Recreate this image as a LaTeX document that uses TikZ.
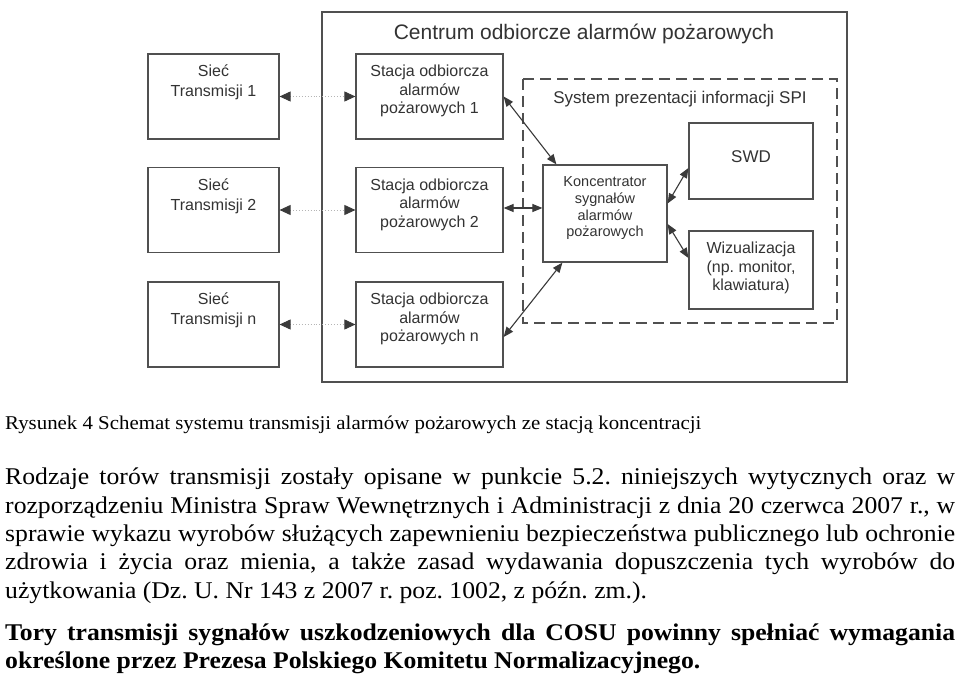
\documentclass[tikz,border=0pt]{standalone}
\usepackage{fontspec}
\setmainfont{Liberation Serif}[FakeStretch=1.07]
\newfontfamily\diagfont{Liberation Sans}
\usetikzlibrary{arrows.meta}

\definecolor{linegray}{HTML}{505050}
\definecolor{textgray}{HTML}{333333}
\definecolor{tipgray}{HTML}{3A3A3A}
\definecolor{dotgray}{HTML}{B5B5B5}

\hyphenpenalty=10000
\exhyphenpenalty=10000
\frenchspacing

\begin{document}
\begin{tikzpicture}[x=1pt,y=-1pt,
    box/.style={draw=linegray,line width=1.2pt,inner sep=0pt},
    netbox/.style={box,minimum width=131pt,minimum height=85pt},
    stationbox/.style={box,minimum width=147pt,minimum height=85pt},
    spibox/.style={box,minimum width=124pt},
    boxtext/.style={text=textgray,font=\diagfont\fontsize{16}{18.5}\selectfont,
      align=center,inner sep=0pt,anchor=north},
    link/.style={{Triangle[length=10pt,width=8pt]}-{Triangle[length=10pt,width=8pt]},
      draw=tipgray,line width=1.1pt},
    dotlink/.style={{Triangle[length=11pt,width=10pt,color=tipgray]}-{Triangle[length=11pt,width=10pt,color=tipgray]},
      draw=dotgray,dotted,line width=0.9pt}]

  \useasboundingbox (0,0) rectangle (959,676);
  \fill[white] (0,0) rectangle (959,676);

  % Draw the alarm centre
  \draw[linegray,line width=1.5pt] (322,12) rectangle (847,382);
  \node[anchor=base,inner sep=0pt,text=textgray,font=\diagfont\fontsize{21}{24}\selectfont]
    (centre) at (584,39.5) {Centrum odbiorcze alarmów pożarowych};

  % Draw the SPI system
  \draw[linegray,line width=1.2pt,dash pattern=on 11pt off 6pt] (523,79) rectangle (837,323);
  \node[anchor=base,inner sep=0pt,text=textgray,font=\diagfont\fontsize{17}{20}\selectfont]
    (spi) at (680,104) {System prezentacji informacji SPI};

  % Place the networks and the stations
  \foreach \n/\y in {1/96.5, 2/210, n/324.5} {
    \node[netbox] (net\n) at (213.5,\y) {};
    \node[boxtext,font=\diagfont\fontsize{16}{20}\selectfont] (nettext\n) at (213.5,\y-34.8)
      {\rule{0pt}{15pt}Sieć\\Transmisji \n};
    \node[stationbox] (st\n) at (429.5,\y) {};
    \node[boxtext] (sttext\n) at (429.5,\y-34.8)
      {\rule{0pt}{15pt}Stacja odbiorcza\\alarmów\\pożarowych \n};
    \draw[dotlink] (net\n) -- (st\n);
  }

  % Place the concentrator, SWD and the display
  \node[spibox,minimum height=97pt] (conc) at (605,213.5) {};
  \node[boxtext,font=\diagfont\fontsize{14.5}{16.7}\selectfont] (conctext) at (605,176.5)
    {Koncentrator\\sygnałów\\alarmów\\pożarowych};
  \node[spibox,minimum height=76pt] (swd) at (751,161) {};
  \node[boxtext,anchor=base,font=\diagfont\fontsize{17}{20}\selectfont] (swdtext) at (751,163) {SWD};
  \node[spibox,minimum height=78pt] (wiz) at (751,270) {};
  \node[boxtext] (wiztext) at (751,242) {Wizualizacja\\(np. monitor,\\klawiatura)};

  % Connect the stations with the concentrator
  \draw[link] (st1.east) -- ([xshift=14pt]conc.north west);
  \draw[link] ([yshift=2pt]st2.east) -- ([yshift=2pt]st2.east -| conc.west);
  \draw[link] ([yshift=-12.5pt]stn.east) -- ([xshift=20pt]conc.south west);
  \draw[link] ([yshift=10pt]conc.east) -- ([yshift=-7pt]swd.west);
  \draw[link] ([yshift=-10.5pt]conc.east) -- ([yshift=12pt]wiz.west);

  % Caption and text below the figure
  \node[anchor=base west,inner sep=0pt,font=\fontsize{19.5}{23}\selectfont]
    (caption) at (5,429) {Rysunek 4 Schemat systemu transmisji alarmów pożarowych ze stacją koncentracji};
  \node[anchor=north west,inner sep=0pt,text width=950pt,align=justify,
    font=\fontsize{24}{28.3}\selectfont] (body) at (5,468)
    {Rodzaje torów transmisji zostały opisane w punkcie 5.2. niniejszych wytycznych oraz w\linebreak
     rozporządzeniu Ministra Spraw Wewnętrznych i Administracji z dnia 20 czerwca 2007 r., w\linebreak
     sprawie wykazu wyrobów służących zapewnieniu bezpieczeństwa publicznego lub ochronie\linebreak
     zdrowia i życia oraz mienia, a także zasad wydawania dopuszczenia tych wyrobów do\linebreak
     użytkowania (Dz. U. Nr 143 z 2007 r. poz. 1002, z późn. zm.).};
  \node[anchor=north west,inner sep=0pt,text width=950pt,align=justify,
    font=\bfseries\fontsize{24}{28}\selectfont] (rule) at (5,624)
    {Tory transmisji sygnałów uszkodzeniowych dla COSU powinny spełniać wymagania\linebreak
     określone przez Prezesa Polskiego Komitetu Normalizacyjnego.};
\end{tikzpicture}
\end{document}
